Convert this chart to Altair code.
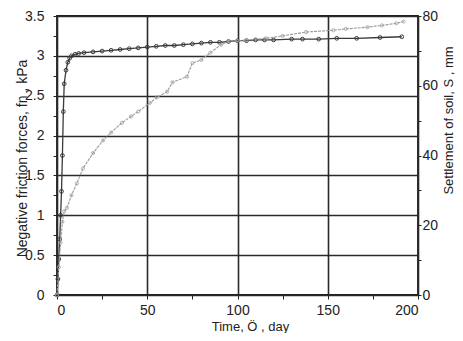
import altair as alt
import pandas as pd

# Negative friction force (kPa) vs time (day)
t_force = [0, 0.5, 1, 1.5, 2, 2.5, 3, 3.5, 4, 5, 6, 7, 8, 10, 12, 15, 20, 25, 30,
           35, 40, 45, 50, 55, 60, 65, 70, 75, 80, 85, 90, 95, 100, 105, 110, 115,
           120, 130, 136, 145, 155, 166, 179, 191]
force = [0, 0.2, 0.45, 0.7, 1.0, 1.3, 1.75, 2.3, 2.65, 2.82, 2.92, 2.97, 3.0, 3.02,
         3.03, 3.04, 3.05, 3.06, 3.07, 3.08, 3.09, 3.1, 3.11, 3.12, 3.13, 3.13, 3.14,
         3.15, 3.16, 3.17, 3.17, 3.18, 3.19, 3.19, 3.2, 3.2, 3.2, 3.21, 3.21, 3.21,
         3.22, 3.22, 3.23, 3.24]

# Settlement of soil (mm) vs time (day)
t_settle = [0, 1, 2, 3, 4, 5.5, 8, 11, 14.4, 20, 25.5, 30, 36, 41, 45, 51.5, 55.4,
            61, 64, 72, 75, 80, 85, 91, 95, 100, 105, 116, 125, 138, 153, 160, 172,
            180, 188, 192]
settle = [0, 8, 15, 21, 24, 25, 28.6, 32, 36.3, 40.7, 44.3, 46.6, 49.4, 51.2, 52.6,
          55.1, 56.7, 58.3, 61, 62.6, 66.5, 67.4, 69.5, 71.8, 72.8, 72.9, 73.1, 73.6,
          74.3, 75.4, 75.9, 76.3, 76.8, 77.3, 77.9, 78.4]

x_ticks = list(range(0, 201, 25))
y_left_ticks = [i * 0.25 for i in range(15)]
y_right_ticks = list(range(0, 81, 10))

df_f = pd.DataFrame({"t": t_force, "f": force})
df_s = pd.DataFrame({"t": t_settle, "s": settle})

FONT = "Liberation Sans"

x_enc = alt.X(
    "t:Q",
    scale=alt.Scale(domain=[0, 200], nice=False, zero=False),
    axis=alt.Axis(
        values=x_ticks,
        labelExpr="datum.value % 50 == 0 ? datum.label : ''",
        grid=True,
        gridOpacity={"condition": {"test": "datum.value % 50 != 0", "value": 0}, "value": 1},
        gridColor="#2a2a2a",
        gridWidth=1.6,
        title="Time, Ö , day",
        titleX=193,
        titleY=31,
        titleBaseline="middle",
        titleFontWeight="normal",
        titleFontSize=13,
        labelFontSize=14,
        labelPadding=4,
        tickSize=4,
        domain=False,
    ),
)

friction = alt.Chart(df_f).mark_line(
    color="#3a3a3a", strokeWidth=1.3,
    point=alt.OverlayMarkDef(filled=False, shape="circle", size=14, color="#3a3a3a", strokeWidth=1),
).encode(
    x=x_enc,
    y=alt.Y(
        "f:Q",
        scale=alt.Scale(domain=[0, 3.5], nice=False),
        axis=alt.Axis(
            values=y_left_ticks,
            labelExpr="(datum.value * 4) % 2 == 0 ? format(datum.value, '~g') : ''",
            grid=True,
            gridOpacity={"condition": {"test": "(datum.value * 4) % 2 != 0", "value": 0}, "value": 1},
            gridColor="#2a2a2a",
            gridWidth=1.6,
            title="Negative friction forces, fn , kPa",
            titleX=-35,
            titleY=142,
            titleAlign="center",
            titleBaseline="middle",
            titleFontWeight="normal",
            titleFontSize=14,
            labelFontSize=14,
            labelPadding=9,
            tickSize=4,
            domain=False,
        ),
    ),
)

settlement = alt.Chart(df_s).mark_line(
    color="#9a9a9a", strokeWidth=1.1, strokeDash=[3, 1],
    point=alt.OverlayMarkDef(filled=False, shape="circle", size=10, color="#a0a0a0", strokeWidth=0.8),
).encode(
    x=alt.X("t:Q", scale=alt.Scale(domain=[0, 200], nice=False, zero=False)),
    y=alt.Y(
        "s:Q",
        scale=alt.Scale(domain=[0, 80], nice=False),
        axis=alt.Axis(
            orient="right",
            values=y_right_ticks,
            labelExpr="datum.value % 20 == 0 ? datum.label : ''",
            grid=False,
            title="Settlement of soil, S , mm",
            titleAngle=270,
            titleX=30,
            titleY=104,
            titleAlign="center",
            titleBaseline="middle",
            titleFontWeight="normal",
            titleFontSize=13,
            labelFontSize=14,
            labelPadding=1,
            tickSize=3,
            domain=False,
        ),
    ),
)

chart = alt.layer(friction, settlement).resolve_scale(y="independent").properties(
    width=361,
    height=279,
    autosize=alt.AutoSizeParams(type="none"),
    padding={"left": 49, "top": 8, "right": 37, "bottom": 38},
).configure_axis(
    labelFont=FONT,
    titleFont=FONT,
    labelColor="#222222",
    titleColor="#222222",
    tickColor="#222222",
).configure_view(
    stroke="#1e1e1e", strokeWidth=1.8
)

chart.save("out.html", embed_options={"renderer": "svg", "actions": False})
